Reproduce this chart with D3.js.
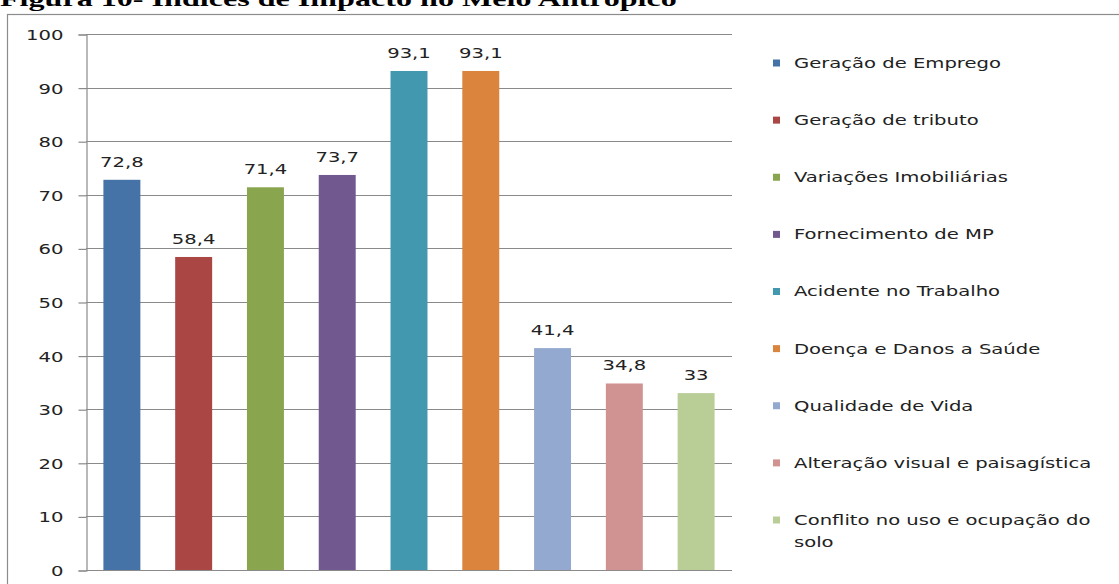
<!DOCTYPE html>
<html>
<head>
<meta charset="utf-8">
<script src="https://cdn.jsdelivr.net/npm/d3@7"></script>
<style>
  html, body { margin: 0; padding: 0; background: #fff; overflow: hidden; }
  svg { display: block; }
  .lbl { font-family: "DejaVu Sans", Verdana, sans-serif; font-size: 14px; fill: #222; }
  .title { font-family: "Liberation Serif", "Times New Roman", serif; font-weight: bold; font-size: 22px; fill: #000; }
</style>
</head>
<body>
<svg id="chart" width="1119" height="584"></svg>
<script>
// Índices de impacto no meio antrópico
const categories = [
  "Geração de Emprego",
  "Geração de tributo",
  "Variações Imobiliárias",
  "Fornecimento de MP",
  "Acidente no Trabalho",
  "Doença e Danos a Saúde",
  "Qualidade de Vida",
  "Alteração visual e paisagística",
  "Conflito no uso e ocupação do solo"
];
const values = [72.8, 58.4, 71.4, 73.7, 93.1, 93.1, 41.4, 34.8, 33];
const valueLabels = ["72,8", "58,4", "71,4", "73,7", "93,1", "93,1", "41,4", "34,8", "33"];
const colors = ["#4572A7", "#AA4643", "#89A54E", "#71588F", "#4198AF", "#DB843D", "#93A9CF", "#D19392", "#B9CD96"];
const yTicks = [0, 10, 20, 30, 40, 50, 60, 70, 80, 90, 100];
const legendLines = [
  ["Geração de Emprego"],
  ["Geração de tributo"],
  ["Variações Imobiliárias"],
  ["Fornecimento de MP"],
  ["Acidente no Trabalho"],
  ["Doença e Danos a Saúde"],
  ["Qualidade de Vida"],
  ["Alteração visual e paisagística"],
  ["Conflito no uso e ocupação do", "solo"]
];

const svg = d3.select("#chart");
const SX = 1.4; // horizontal stretch of the text glyphs

// plot area
const plot = { left: 86, right: 732, top: 34, bottom: 570 };

const x = d3.scaleBand().domain(categories).range([plot.left, plot.right]).paddingInner(0.485).paddingOuter(0.2425);
const y = d3.scaleLinear().domain([0, 100]).range([plot.bottom, plot.top]);

// figure caption (its upper half runs off the top of the page)
svg.append("text").attr("class", "title")
  .attr("transform", `translate(0,6) scale(1.46,1)`)
  .text("Figura 10- Índices de Impacto no Meio Antrópico");

// chart frame
svg.append("rect").attr("x", 7.5).attr("y", 14.5).attr("width", 1300).attr("height", 800)
  .attr("fill", "none").attr("stroke", "#8c8c8c").attr("stroke-width", 1.2);

// gridlines
svg.append("g").selectAll("line").data(yTicks).join("line")
  .attr("x1", plot.left).attr("x2", plot.right)
  .attr("y1", d => Math.round(y(d)) + 0.5).attr("y2", d => Math.round(y(d)) + 0.5)
  .attr("stroke", "#8a8a8a").attr("stroke-width", 1.2);

// value axis
const yAxis = d3.axisLeft(y).tickValues(yTicks).tickSize(8).tickPadding(0).tickFormat(d => d);
const gy = svg.append("g").attr("transform", `translate(${plot.left + 0.5},0.5)`).call(yAxis);
gy.select(".domain").attr("stroke", "#8a8a8a").attr("stroke-width", 1.2);
gy.selectAll(".tick line").attr("stroke", "#8a8a8a").attr("stroke-width", 1.2);
gy.selectAll(".tick text").remove();
gy.selectAll(".tick").append("text").attr("class", "lbl")
  .attr("text-anchor", "end").attr("dy", "0.35em")
  .attr("transform", `translate(-23,0) scale(${SX},1)`)
  .text(d => d);

// bars
svg.append("g").selectAll("rect").data(values).join("rect")
  .attr("x", (d, i) => x(categories[i]))
  .attr("width", x.bandwidth())
  .attr("y", d => y(d))
  .attr("height", d => y(0) - y(d))
  .attr("fill", (d, i) => colors[i]);

// value labels
svg.append("g").selectAll("text").data(values).join("text")
  .attr("class", "lbl").attr("text-anchor", "middle")
  .attr("transform", (d, i) => `translate(${x(categories[i]) + x.bandwidth() / 2},${y(d) - 13}) scale(${SX},1)`)
  .text((d, i) => valueLabels[i]);

// legend
const legend = svg.append("g").attr("transform", "translate(773,0)");
const legY = d3.scaleLinear().domain([0, 8]).range([63, 520]);
const items = legend.selectAll("g").data(legendLines).join("g")
  .attr("transform", (d, i) => `translate(0,${legY(i)})`);
items.append("rect").attr("x", 0).attr("y", -3.5).attr("width", 7).attr("height", 7)
  .attr("fill", (d, i) => colors[i]);
items.each(function (lines) {
  const g = d3.select(this);
  lines.forEach((ln, k) => {
    g.append("text").attr("class", "lbl")
      .attr("transform", `translate(21,${k * 22}) scale(${SX},1)`)
      .attr("dy", "0.35em").text(ln);
  });
});
</script>
</body>
</html>
